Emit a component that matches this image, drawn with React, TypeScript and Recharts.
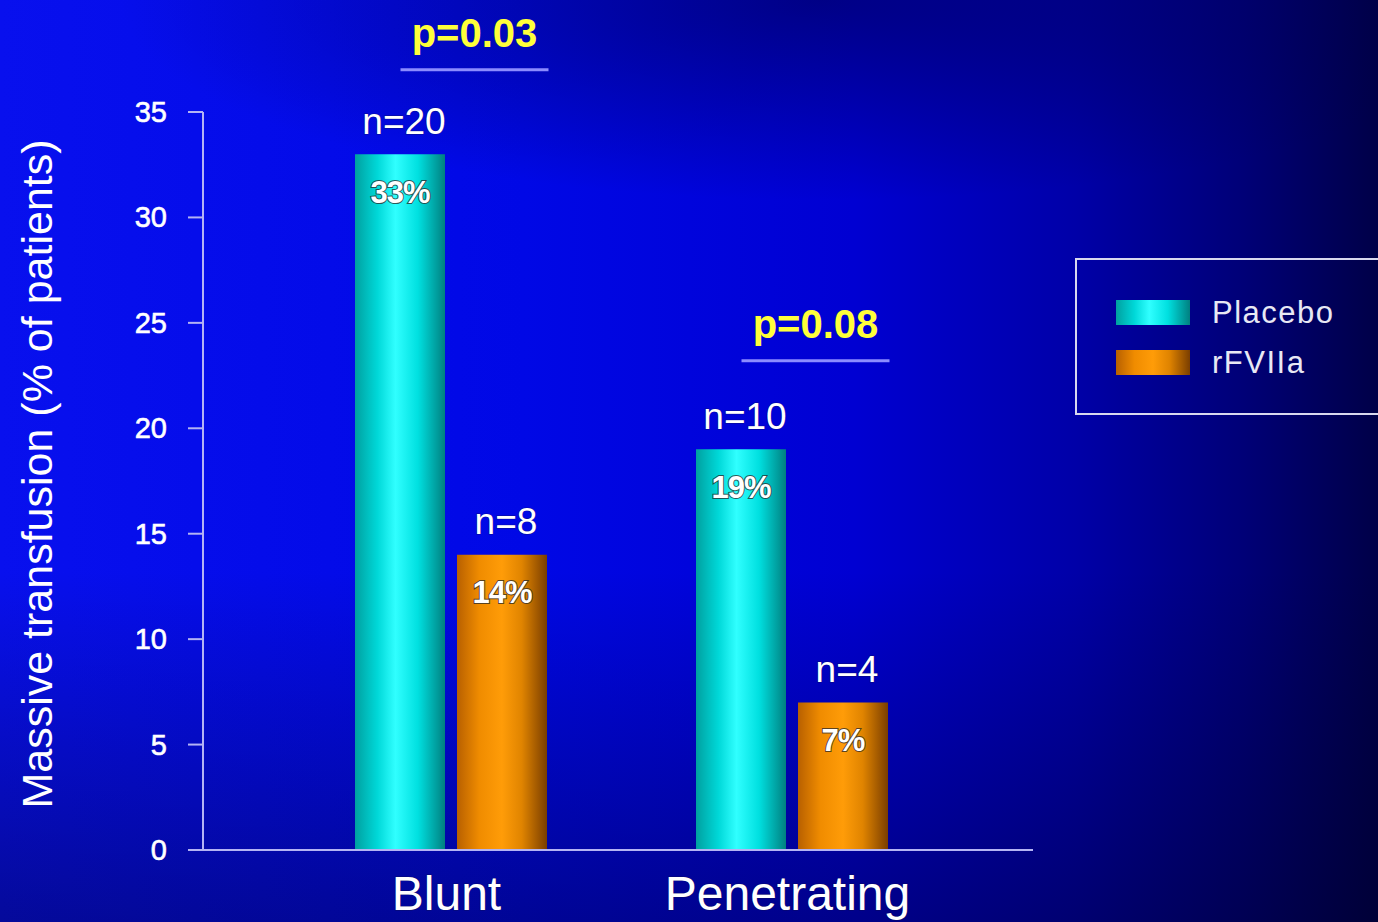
import React from 'react';
import {
  BarChart, Bar, XAxis, YAxis, LabelList, Legend, ReferenceDot, Label,
} from 'recharts';

const categories = ['Blunt', 'Penetrating'];
const placeboValues = [33, 19];
const rfviiaValues = [14, 7];
const placeboN = [20, 10];
const rfviiaN = [8, 4];
const pLabels = ['p=0.03', 'p=0.08'];
const pLevels = [37.0, 23.2];
const yTicks = [0, 5, 10, 15, 20, 25, 30, 35];
const seriesNames = ['Placebo', 'rFVIIa'];
const yLabel = 'Massive transfusion (% of patients)';

const data = categories.map((c, i) => ({
  category: c,
  placebo: placeboValues[i],
  rfviia: rfviiaValues[i],
  placeboN: placeboN[i],
  rfviiaN: rfviiaN[i],
}));

const FONT = '"Liberation Sans", Arial, Helvetica, sans-serif';
const AXIS = '#b4b4f4';

const CYAN_CSS = 'linear-gradient(to right, #00a0a0 0%, #00d8d8 25%, #30ffff 45%, #00e0e0 70%, #008080 100%)';
const ORANGE_CSS = 'linear-gradient(to right, #b86000 0%, #f08c00 25%, #ff9c08 50%, #e08400 72%, #7a3e00 100%)';

const YTick = (props: any) => {
  const { x, y, payload } = props;
  return (
    <text x={x} y={y} textAnchor="end" dominantBaseline="central" fill="#ffffff"
      stroke="#ffffff" strokeWidth={0.6}
      style={{ fontFamily: FONT, fontSize: 29 }}>
      {payload.value}
    </text>
  );
};

const XTick = (props: any) => {
  const { x, y, payload } = props;
  return (
    <text x={x - 4} y={y + 43} textAnchor="middle" dominantBaseline="central" fill="#ffffff"
      stroke="rgba(20,20,60,0.5)" strokeWidth={1} paintOrder="stroke"
      style={{ fontFamily: FONT, fontSize: 48 }}>
      {payload.value}
    </text>
  );
};

const PctLabel = (props: any) => {
  const { x, y, width, value } = props;
  return (
    <text x={x + width / 2} y={y + 38} textAnchor="middle" dominantBaseline="central"
      fill="#ffffff" stroke="rgba(40,40,40,0.75)" strokeWidth={2} paintOrder="stroke"
      style={{ fontFamily: FONT, fontSize: 31, fontWeight: 700, letterSpacing: -1 }}>
      {`${value}%`}
    </text>
  );
};

const NLabel = (props: any) => {
  const { x, y, width, value } = props;
  return (
    <text x={x + width / 2 + 4} y={y - 33} textAnchor="middle" dominantBaseline="central"
      fill="#ffffff" stroke="rgba(20,20,60,0.5)" strokeWidth={1} paintOrder="stroke"
      style={{ fontFamily: FONT, fontSize: 37 }}>
      {`n=${value}`}
    </text>
  );
};

const PShape = (label: string) => (props: any) => {
  const { cx, cy } = props;
  const mid = cx + 24;
  return (
    <g>
      <line x1={mid - 74} x2={mid + 74} y1={cy} y2={cy} stroke="#8c8cff" strokeWidth={3} />
      <text x={mid} y={cy - 37} textAnchor="middle" dominantBaseline="central"
        fill="#ffff3a" style={{ fontFamily: FONT, fontSize: 40, fontWeight: 700 }}>
        {label}
      </text>
    </g>
  );
};

const LegendBox = () => (
  <div style={{
    width: 320, height: 157, boxSizing: 'border-box', border: '2px solid #d8d8ee',
    position: 'relative', fontFamily: FONT,
  }}>
    {seriesNames.map((name, i) => (
      <div key={name} style={{ position: 'absolute', left: 39, top: 40 + i * 50, height: 25, display: 'flex', alignItems: 'center' }}>
        <div style={{ width: 74, height: 25, background: i === 0 ? CYAN_CSS : ORANGE_CSS }} />
        <span style={{ marginLeft: 22, color: '#e8e8f4', fontSize: 31, letterSpacing: 1.5, lineHeight: '25px' }}>{name}</span>
      </div>
    ))}
  </div>
);

const YAxisTitle = (props: any) => {
  const vb = props.viewBox || { x: 0, y: 112, width: 203, height: 738 };
  const cx = vb.x + 37;
  const cy = vb.y + vb.height / 2 - 7;
  return (
    <text x={cx} y={cy} transform={`rotate(-90, ${cx}, ${cy})`} textAnchor="middle"
      dominantBaseline="central" fill="#ffffff" style={{ fontFamily: FONT, fontSize: 43 }}>
      {yLabel}
    </text>
  );
};

export default function App() {
  return (
    <div style={{
      position: 'absolute', left: 0, top: 0, width: 1378, height: 922, overflow: 'hidden',
      background: [
        'radial-gradient(ellipse 700px 200px at 820px 0px, rgba(0,0,70,0.55) 0%, rgba(0,0,70,0) 100%)',
        'linear-gradient(to bottom, rgba(0,0,30,0) 0%, rgba(0,0,30,0) 62%, rgba(0,0,30,0.4) 100%)',
        'linear-gradient(to right, #0810ee 0%, #0008e6 38%, #0000d2 62%, #0000a8 78%, #000078 90%, #000048 100%)',
      ].join(', '),
    }}>
      <BarChart width={1378} height={922} data={data}
        margin={{ top: 112, right: 345, bottom: 0, left: 0 }}
        barSize={90} barGap={12}>
        <defs>
          <linearGradient id="cyanGrad" x1="0" y1="0" x2="1" y2="0">
            <stop offset="0%" stopColor="#00a0a0" />
            <stop offset="25%" stopColor="#00d8d8" />
            <stop offset="45%" stopColor="#30ffff" />
            <stop offset="70%" stopColor="#00e0e0" />
            <stop offset="100%" stopColor="#008080" />
          </linearGradient>
          <linearGradient id="orangeGrad" x1="0" y1="0" x2="1" y2="0">
            <stop offset="0%" stopColor="#b86000" />
            <stop offset="25%" stopColor="#f08c00" />
            <stop offset="50%" stopColor="#ff9c08" />
            <stop offset="72%" stopColor="#e08400" />
            <stop offset="100%" stopColor="#7a3e00" />
          </linearGradient>
        </defs>
        <XAxis dataKey="category" height={72} padding={{ left: 77, right: 71 }}
          axisLine={{ stroke: AXIS, strokeWidth: 2 }} tickLine={false} tickSize={0} tickMargin={0}
          tick={<XTick />} interval={0} />
        <YAxis width={203} domain={[0, 35]} ticks={yTicks} type="number" allowDataOverflow
          axisLine={{ stroke: AXIS, strokeWidth: 2 }} tickLine={{ stroke: AXIS, strokeWidth: 2 }}
          tickSize={15} tickMargin={21} tick={<YTick />}>
          <Label content={<YAxisTitle />} />
        </YAxis>
        <Legend layout="horizontal" verticalAlign="middle" align="center"
          content={() => <LegendBox />}
          wrapperStyle={{ position: 'absolute', left: 1075, top: 258, width: 320, height: 157 }} />
        <Bar dataKey="placebo" name={seriesNames[0]} fill="url(#cyanGrad)" isAnimationActive={false}>
          <LabelList dataKey="placebo" content={<PctLabel />} />
          <LabelList dataKey="placeboN" content={<NLabel />} />
        </Bar>
        <Bar dataKey="rfviia" name={seriesNames[1]} fill="url(#orangeGrad)" isAnimationActive={false}>
          <LabelList dataKey="rfviia" content={<PctLabel />} />
          <LabelList dataKey="rfviiaN" content={<NLabel />} />
        </Bar>
        {categories.map((c, i) => (
          <ReferenceDot key={c} x={c} y={pLevels[i]} r={1} ifOverflow="visible"
            shape={PShape(pLabels[i])} />
        ))}
      </BarChart>
    </div>
  );
}
